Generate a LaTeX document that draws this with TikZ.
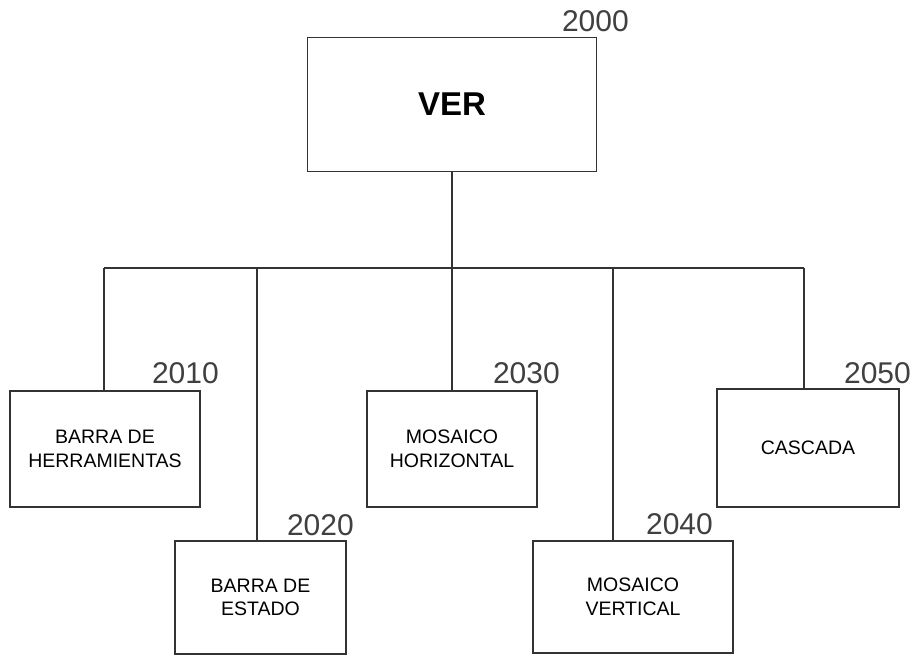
\documentclass[tikz,border=0pt]{standalone}
\usepackage{fontspec}
\setmainfont{Liberation Sans}
\begin{document}
\begin{tikzpicture}[x=1pt,y=-1pt,
  ln/.style={line width=1.3pt,draw=black!80},
  boxnode/.style={ln,rectangle,inner sep=0pt,align=center,
    font=\fontsize{19.5}{23.5}\selectfont},
  numlabel/.style={anchor=base east,inner sep=0pt,text=black!75,
    font=\fontsize{30}{30}\selectfont}]
\useasboundingbox (0,0) rectangle (915,655);
% boxes
\node[boxnode,minimum width=289pt,minimum height=134pt,font=\fontsize{33}{33}\selectfont\bfseries] (ver) at (452,104.5) {VER};
\node[boxnode,minimum width=190pt,minimum height=116pt] (n2010) at (105,449) {BARRA DE\\HERRAMIENTAS};
\node[boxnode,minimum width=171pt,minimum height=113pt] (n2020) at (260.5,597.5) {BARRA DE\\ESTADO};
\node[boxnode,minimum width=170pt,minimum height=116pt] (n2030) at (452,449) {MOSAICO\\HORIZONTAL};
\node[boxnode,minimum width=200pt,minimum height=112pt] (n2040) at (633,597) {MOSAICO\\VERTICAL};
\node[boxnode,minimum width=182pt,minimum height=118pt] (n2050) at (808,448) {CASCADA};
% number labels
\node[numlabel] (l2000) at (629,32) {2000};
\node[numlabel] (l2010) at (219,383) {2010};
\node[numlabel] (l2020) at (354,535) {2020};
\node[numlabel] (l2030) at (560,383) {2030};
\node[numlabel] (l2040) at (713,534) {2040};
\node[numlabel] (l2050) at (911,383) {2050};
% bus
\coordinate (b1) at (104,268);
\coordinate (b2) at (257,268);
\coordinate (b3) at (452,268);
\coordinate (b4) at (613,268);
\coordinate (b5) at (804,268);
\draw[ln] (b1) -- (b5);
\draw[ln] (ver.south) -- (b3);
\draw[ln] (b1) -- (b1 |- n2010.north);
\draw[ln] (b2) -- (b2 |- n2020.north);
\draw[ln] (b3) -- (b3 |- n2030.north);
\draw[ln] (b4) -- (b4 |- n2040.north);
\draw[ln] (b5) -- (b5 |- n2050.north);
\end{tikzpicture}
\end{document}
